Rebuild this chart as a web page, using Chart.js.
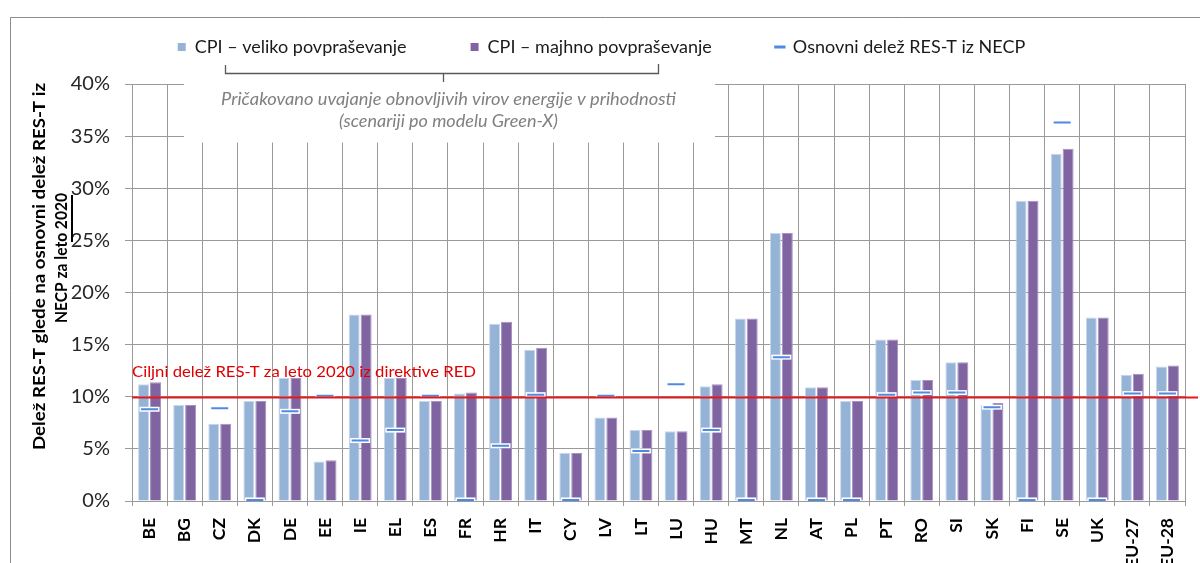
<!DOCTYPE html>
<html lang="sl">
<head>
<meta charset="utf-8">
<title>Delež RES-T glede na osnovni delež RES-T iz NECP</title>
<script src="https://cdn.jsdelivr.net/npm/chart.js@4/dist/chart.umd.min.js"></script>
<style>
  html, body { margin: 0; padding: 0; background: #fff; }
  #wrap { position: relative; width: 1200px; height: 563px; }
</style>
</head>
<body>
<div id="wrap"><canvas id="resChart"></canvas></div>
<script>
// ---- 1. DATA --------------------------------
const countries = ["BE", "BG", "CZ", "DK", "DE", "EE", "IE", "EL", "ES", "FR", "HR", "IT", "CY", "LV", "LT",
  "LU", "HU", "MT", "NL", "AT", "PL", "PT", "RO", "SI", "SK", "FI", "SE", "UK", "EU-27", "EU-28"];

// CPI – high demand (light blue bars), %
const highDemand = [11.2, 9.2, 7.4, 9.6, 11.8, 3.8, 17.9, 11.8, 9.6, 10.3, 17.0, 14.5, 4.6, 8.0, 6.8,
  6.7, 11.0, 17.5, 25.7, 10.9, 9.6, 15.5, 11.6, 13.3, 9.2, 28.8, 33.3, 17.6, 12.1, 12.9];

// CPI – low demand (purple bars), %
const lowDemand = [11.4, 9.2, 7.4, 9.6, 11.8, 3.9, 17.9, 11.8, 9.6, 10.4, 17.2, 14.7, 4.6, 8.0, 6.8,
  6.7, 11.2, 17.5, 25.7, 10.9, 9.6, 15.5, 11.6, 13.3, 9.4, 28.8, 33.8, 17.6, 12.2, 13.0];

// baseline RES-T share from NECP (dash markers), %
const necpBase = [8.8, null, 8.9, 0.1, 8.6, 10.1, 5.8, 6.8, 10.1, 0.1, 5.3, 10.2, 0.1, 10.1, 4.8,
  11.2, 6.8, 0.1, 13.8, 0.1, 0.1, 10.2, 10.4, 10.4, 9.0, 0.1, 36.3, 0.1, 10.3, 10.3];

// RED target for 2020
const targetShare = 10;

// y axis range
const yMin = 0, yMax = 40, yStep = 5;

// ---- 2. HELPERS -----------------------------
const lightBlue = "#95b3d7";
const purple = "#8064a2";
const necpBlue = "#4f8ae0";
const gridGrey = "#9a9a9a";

// draw text centred at (cx, cy), squeezed/stretched to a given width
function fitText(ctx, text, cx, cy, width, angle) {
  const w = ctx.measureText(text).width;
  ctx.save();
  ctx.translate(cx, cy);
  if (angle) ctx.rotate(angle);
  ctx.scale(width / w, 1);
  ctx.textAlign = "center";
  ctx.fillText(text, 0, 0);
  ctx.restore();
}

// extra drawing: frame, white legend panel, bracket note, target line, axis title
const decor = {
  id: "decor",
  beforeDatasetsDraw(chart) {
    const ctx = chart.ctx;
    ctx.save();
    ctx.fillStyle = "#fff";
    ctx.fillRect(184, 78, 531, 64.5); // panel hiding the grid behind the note
    ctx.restore();
  },
  afterDatasetsDraw(chart) {
    const { ctx, chartArea, scales } = chart;
    const yT = Math.round(scales.y.getPixelForValue(targetShare)) + 0.5;
    ctx.save();

    // target line + label
    ctx.strokeStyle = "#e3191b";
    ctx.lineWidth = 2;
    ctx.beginPath();
    ctx.moveTo(chartArea.left, yT);
    ctx.lineTo(1198, yT);
    ctx.stroke();

    ctx.fillStyle = "#e00000";
    ctx.font = "16px Lato";
    ctx.textBaseline = "alphabetic";
    fitText(ctx, "Ciljni delež RES-T za leto 2020 iz direktive RED", 132 + 172, 377, 344);

    // note under the legend
    ctx.fillStyle = "#808080";
    ctx.font = "italic 17px Lato";
    ctx.textBaseline = "middle";
    fitText(ctx, "Pričakovano uvajanje obnovljivih virov energije v prihodnosti", 448.5, 100, 455);
    fitText(ctx, "(scenariji po modelu Green-X)", 448.5, 122, 219);

    // bracket
    ctx.strokeStyle = "#595959";
    ctx.lineWidth = 1.3;
    ctx.beginPath();
    ctx.moveTo(225.5, 65);
    ctx.lineTo(225.5, 73.5);
    ctx.lineTo(658.5, 73.5);
    ctx.lineTo(658.5, 64);
    ctx.moveTo(443.5, 73.5);
    ctx.lineTo(443.5, 82);
    ctx.stroke();

    // y axis title (two lines)
    ctx.fillStyle = "#000";
    ctx.font = "bold 17px Lato";
    fitText(ctx, "Delež RES-T glede na osnovni delež RES-T iz", 40, 266.5, 367, -Math.PI / 2);
    fitText(ctx, "NECP za leto 2020", 62, 258, 130, -Math.PI / 2);
    ctx.fillRect(71, 195, 2, 47);

    // outer frame
    ctx.strokeStyle = "#8c8c8c";
    ctx.lineWidth = 1;
    ctx.beginPath();
    ctx.moveTo(10.5, 563);
    ctx.lineTo(10.5, 17.5);
    ctx.lineTo(1200, 17.5);
    ctx.stroke();
    ctx.restore();
  }
};

// ---- 3. CHART -------------------------------
Chart.defaults.font.family = "Lato";
Chart.defaults.color = "#000";

const ctx = document.getElementById("resChart").getContext("2d");

new Chart(ctx, {
  type: "bar",
  data: {
    labels: countries,
    datasets: [
      {
        label: "CPI – veliko povpraševanje",
        data: highDemand,
        backgroundColor: lightBlue,
        borderColor: "#c8d8ec",
        borderWidth: 1,
        categoryPercentage: 0.68,
        barPercentage: 0.92,
        order: 3,
      },
      {
        label: "CPI – majhno povpraševanje",
        data: lowDemand,
        backgroundColor: purple,
        borderColor: "#a593c0",
        borderWidth: 1,
        categoryPercentage: 0.68,
        barPercentage: 0.92,
        order: 3,
      },
      {
        // white halo under the NECP dashes
        type: "line",
        label: "",
        data: necpBase,
        showLine: false,
        pointStyle: "line",
        pointRadius: 10,
        pointHoverRadius: 10,
        pointBorderWidth: 5,
        pointBorderColor: "#ffffff",
        order: 2,
      },
      {
        type: "line",
        label: "Osnovni delež RES-T iz NECP",
        data: necpBase,
        showLine: false,
        borderColor: necpBlue,
        pointStyle: "line",
        pointRadius: 8.5,
        pointHoverRadius: 8.5,
        pointBorderWidth: 2,
        pointBorderColor: necpBlue,
        order: 1,
      },
    ],
  },
  options: {
    responsive: true,
    maintainAspectRatio: false,
    animation: false,
    events: [],
    layout: { padding: { top: -26, left: 10, right: 7, bottom: 0 } },
    scales: {
      x: {
        grid: { color: gridGrey, tickColor: gridGrey, tickLength: 5, lineWidth: 1 },
        border: { color: gridGrey },
        ticks: {
          minRotation: 90,
          maxRotation: 90,
          padding: 12,
          color: "#000",
          font: { family: "Lato", size: 17.5, weight: "bold" },
        },
        afterFit(scale) {
          scale.height = 62;
          scale.paddingLeft = 0;
          scale.paddingRight = 0;
        },
      },
      y: {
        min: yMin,
        max: yMax,
        grid: { color: gridGrey, tickColor: gridGrey, tickLength: 7, lineWidth: 1 },
        border: { color: gridGrey },
        ticks: {
          stepSize: yStep,
          padding: 15,
          color: "#262626",
          font: { family: "Lato", size: 20 },
          callback: (v) => v + "%",
        },
        afterFit(scale) {
          scale.width = 122;
        },
      },
    },
    plugins: {
      // empty title used only as a gap between the legend and the plot
      title: {
        display: true,
        text: "",
        weight: 500,
        padding: 0,
        font: { size: 15, lineHeight: 1.2 },
      },
      legend: {
        position: "top",
        labels: {
          usePointStyle: true,
          boxWidth: 8,
          boxHeight: 8,
          padding: 64,
          color: "#1a1a1a",
          font: { family: "Lato", size: 18 },
          filter: (item) => item.text !== "",
          sort: (a, b) => a.datasetIndex - b.datasetIndex,
          generateLabels(chart) {
            const items = Chart.defaults.plugins.legend.labels.generateLabels(chart);
            return items.map((it) => {
              const ds = chart.data.datasets[it.datasetIndex];
              if (ds.type === "line") {
                it.pointStyle = "line";
                it.strokeStyle = necpBlue;
                it.lineWidth = 3;
              } else {
                it.pointStyle = "rect";
                it.fillStyle = ds.backgroundColor;
                it.lineWidth = 0;
              }
              return it;
            });
          },
        },
      },
      tooltip: { enabled: false },
    },
  },
  plugins: [decor],
});
</script>
</body>
</html>
